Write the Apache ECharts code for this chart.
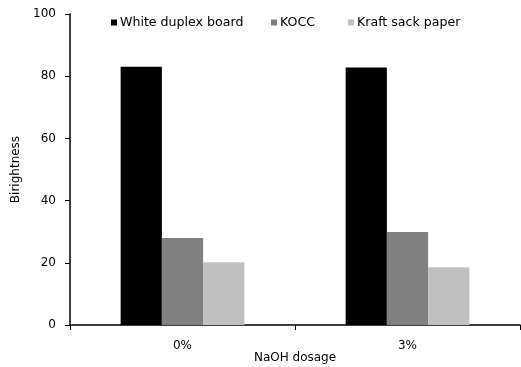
<!DOCTYPE html>
<html><head><meta charset="utf-8">
<script src="https://cdn.jsdelivr.net/npm/echarts@6/dist/echarts.min.js"></script>
<style>html,body{margin:0;padding:0;background:#fff}#c{width:521px;height:367px}</style>
</head><body><div id="c"></div>
<script>
var categories = ['0%', '3%'];
var seriesNames = ['White duplex board', 'KOCC', 'Kraft sack paper'];
var whiteDuplex = [83.0, 82.8];
var kocc = [28.0, 29.9];
var kraft = [20.2, 18.6];
var yTicks = [0, 20, 40, 60, 80, 100];

var colors = ['#000000', '#808080', '#c0c0c0'];
var font = 'DejaVu Sans, Verdana, sans-serif';
var chart = echarts.init(document.getElementById('c'));
var legendLefts = [106, 266, 343];
chart.setOption({
  animation: false,
  backgroundColor: '#fff',
  legend: seriesNames.map(function (n, i) {
    return {
      data: [n], left: legendLefts[i], top: 11, itemWidth: 6, itemHeight: 6, icon: 'rect',
      textStyle: {fontFamily: font, fontSize: 12.6, color: '#000', padding: [0, 0, 0, -2]}
    };
  }),
  grid: {left: 70, right: 1, top: 14, bottom: 42, containLabel: false, outerBoundsMode: 'none'},
  xAxis: {
    type: 'category', data: categories,
    name: 'NaOH dosage', nameLocation: 'middle', nameGap: 27, nameMoveOverlap: false,
    nameTextStyle: {fontFamily: font, fontSize: 12, color: '#000'},
    axisLine: {lineStyle: {color: '#000', width: 1.5}},
    axisTick: {show: true, length: 5, lineStyle: {color: '#000'}},
    axisLabel: {fontFamily: font, fontSize: 12, color: '#000', margin: 15}
  },
  yAxis: {
    type: 'value', min: yTicks[0], max: yTicks[yTicks.length - 1], interval: 20,
    name: 'Birightness', nameLocation: 'middle', nameGap: 48, nameRotate: 90,
    nameTextStyle: {fontFamily: font, fontSize: 12, color: '#000'},
    axisLine: {show: true, lineStyle: {color: '#000', width: 1.5}},
    axisTick: {show: true, length: 5, lineStyle: {color: '#000'}},
    splitLine: {show: false},
    axisLabel: {fontFamily: font, fontSize: 12, color: '#000', margin: 14}
  },
  series: [
    {name: seriesNames[0], type: 'bar', data: whiteDuplex, itemStyle: {color: colors[0]}, barGap: '0%', barCategoryGap: '45%'},
    {name: seriesNames[1], type: 'bar', data: kocc, itemStyle: {color: colors[1]}},
    {name: seriesNames[2], type: 'bar', data: kraft, itemStyle: {color: colors[2]}}
  ]
});
</script></body></html>
